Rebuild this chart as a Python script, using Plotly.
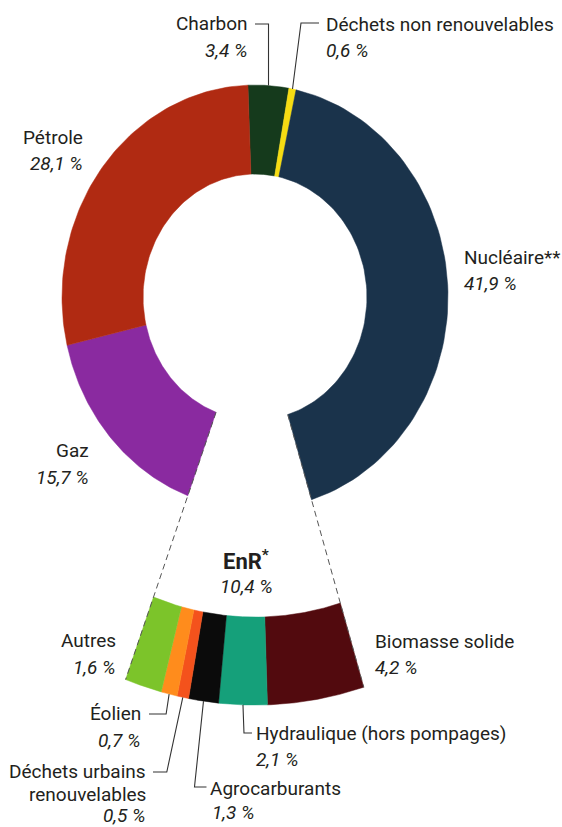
import numpy as np
import plotly.graph_objects as go

# ---------------- data ----------------
main_labels = ["Charbon", "Déchets non renouvelables", "Nucléaire**", "EnR", "Gaz", "Pétrole"]
main_values = [3.4, 0.6, 41.9, 10.4, 15.7, 28.1]
main_pct_text = ["3,4 %", "0,6 %", "41,9 %", "10,4 %", "15,7 %", "28,1 %"]

enr_labels = ["Biomasse solide", "Hydraulique (hors pompages)", "Agrocarburants",
              "Déchets urbains renouvelables", "Éolien", "Autres"]
enr_values = [4.2, 2.1, 1.3, 0.5, 0.7, 1.6]
enr_pct_text = ["4,2 %", "2,1 %", "1,3 %", "0,5 %", "0,7 %", "1,6 %"]

# ---------------- style / layout ----------------
main_colors = ["#153a1c", "#f6dc12", "#1a334b", None, "#8a2aa0", "#b02a12"]
enr_colors = ["#520a0e", "#15a07a", "#0b0b0b", "#f4521c", "#ff8c1c", "#7cc42a"]

W, H = 562, 827
CX, CY = 255, 297          # centre of the ring (px)
AX, BY = 193, 212          # horizontal / vertical outer radius (px)
START = -2.1               # angle of first boundary (deg, clockwise from top)
HOLE = 0.58
SUB_R0, SUB_R1 = 1.51, 1.925
FONT = "Roboto"
TXT = "#231f20"
FS = 19


def pt(r, theta_deg):
    t = np.radians(theta_deg)
    return CX + r * AX * np.sin(t), CY - r * BY * np.cos(t)


def sector(r0, r1, t0, t1):
    th = np.linspace(t0, t1, 80)
    xo, yo = pt(r1, th)
    xi, yi = pt(r0, th[::-1])
    x = np.concatenate([xo, xi, xo[:1]])
    y = np.concatenate([yo, yi, yo[:1]])
    return x, y


total = sum(main_values)
bounds = START + np.concatenate([[0], np.cumsum(main_values)]) / total * 360.0
enr_idx = main_labels.index("EnR")
enr_t0, enr_t1 = bounds[enr_idx], bounds[enr_idx + 1]

fig = go.Figure()

# main ring
for i, (lab, col) in enumerate(zip(main_labels, main_colors)):
    if col is None:
        continue
    x, y = sector(HOLE, 1.0, bounds[i], bounds[i + 1])
    fig.add_trace(go.Scatter(x=x, y=y, fill="toself", fillcolor=col, mode="lines",
                             line=dict(width=0.5, color=col), name=lab,
                             hoverinfo="name"))

# EnR breakdown ring
enr_bounds = enr_t0 + np.concatenate([[0], np.cumsum(enr_values)]) / sum(enr_values) * (enr_t1 - enr_t0)
for i, (lab, col) in enumerate(zip(enr_labels, enr_colors)):
    x, y = sector(SUB_R0, SUB_R1, enr_bounds[i], enr_bounds[i + 1])
    fig.add_trace(go.Scatter(x=x, y=y, fill="toself", fillcolor=col, mode="lines",
                             line=dict(width=0.5, color=col), name=lab,
                             hoverinfo="name"))

# dashed connector lines
for t in (enr_t0, enr_t1):
    x, y = pt(np.array([HOLE, SUB_R1]), np.array([t, t]))
    fig.add_trace(go.Scatter(x=x, y=y, mode="lines", hoverinfo="skip",
                             line=dict(color="#555555", width=1, dash="6px,4px")))


def mid(bnds, i, r):
    return pt(r, (bnds[i] + bnds[i + 1]) / 2)


def leader(xs, ys):
    fig.add_trace(go.Scatter(x=xs, y=ys, mode="lines", hoverinfo="skip",
                             line=dict(color="#333333", width=1.1)))


# leaders for main ring
mx, my = mid(bounds, 0, 1.0)            # Charbon
leader([255, mx, mx], [24, 24, my])
mx, my = mid(bounds, 1, 1.0)            # Déchets non renouvelables
leader([mx, 301, 319], [my, 23, 23])

# leaders for EnR ring
mx, my = mid(enr_bounds, 4, SUB_R1)     # Éolien
leader([149, mx - 3, mx], [714, 714, my])
mx, my = mid(enr_bounds, 3, SUB_R1)     # Déchets urbains
leader([153, mx - 16, mx], [772, 772, my])
mx, my = mid(enr_bounds, 2, SUB_R1)     # Agrocarburants
leader([mx, mx - 9, mx + 3], [my, 787, 787])
mx, my = mid(enr_bounds, 1, SUB_R1)     # Hydraulique
leader([mx, mx + 1, mx + 9], [my, 733, 733])

annotations = []


def label(x, y, text, anchor, italic=False, size=FS, bold=False):
    if italic:
        text = f"<i>{text}</i>"
    if bold:
        text = f"<b>{text}</b>"
    annotations.append(dict(x=x, y=y, xref="x", yref="y", text=text, showarrow=False,
                            xanchor=anchor, yanchor="middle",
                            font=dict(family=FONT, size=size, color=TXT)))


label(250, 23, main_labels[0], "right")
label(250, 50, main_pct_text[0], "right", True)
label(324, 24, main_labels[1], "left")
label(324, 50, main_pct_text[1], "left", True)
label(85, 137, main_labels[5], "right")
label(85, 163, main_pct_text[5], "right", True)
label(462, 257, main_labels[2], "left")
label(462, 283, main_pct_text[2], "left", True)
label(91, 450, main_labels[4], "right")
label(91, 477, main_pct_text[4], "right", True)
label(246, 560, "EnR<sup>*</sup>", "center", size=22, bold=True)
label(246, 586, main_pct_text[3], "center", True)

label(118, 640, enr_labels[5], "right")
label(118, 667, enr_pct_text[5], "right", True)
label(373, 641, enr_labels[0], "left")
label(373, 667, enr_pct_text[0], "left", True)
label(143, 713, enr_labels[4], "right")
label(143, 740, enr_pct_text[4], "right", True)
label(148, 771, "Déchets urbains", "right")
label(148, 794, "renouvelables", "right")
label(148, 815, enr_pct_text[3], "right", True)
label(208, 788, enr_labels[2], "left")
label(210, 812, enr_pct_text[2], "left", True)
label(254, 733, enr_labels[1], "left")
label(254, 759, enr_pct_text[1], "left", True)

fig.update_layout(
    width=W, height=H, margin=dict(l=0, r=0, t=0, b=0),
    paper_bgcolor="white", plot_bgcolor="white", showlegend=False,
    xaxis=dict(range=[0, W], visible=False, fixedrange=True),
    yaxis=dict(range=[H, 0], visible=False, fixedrange=True),
    annotations=annotations,
)

fig.write_html("out.html", config={"displayModeBar": False},
               post_script="document.body.style.margin='0';document.body.style.overflow='hidden';")
